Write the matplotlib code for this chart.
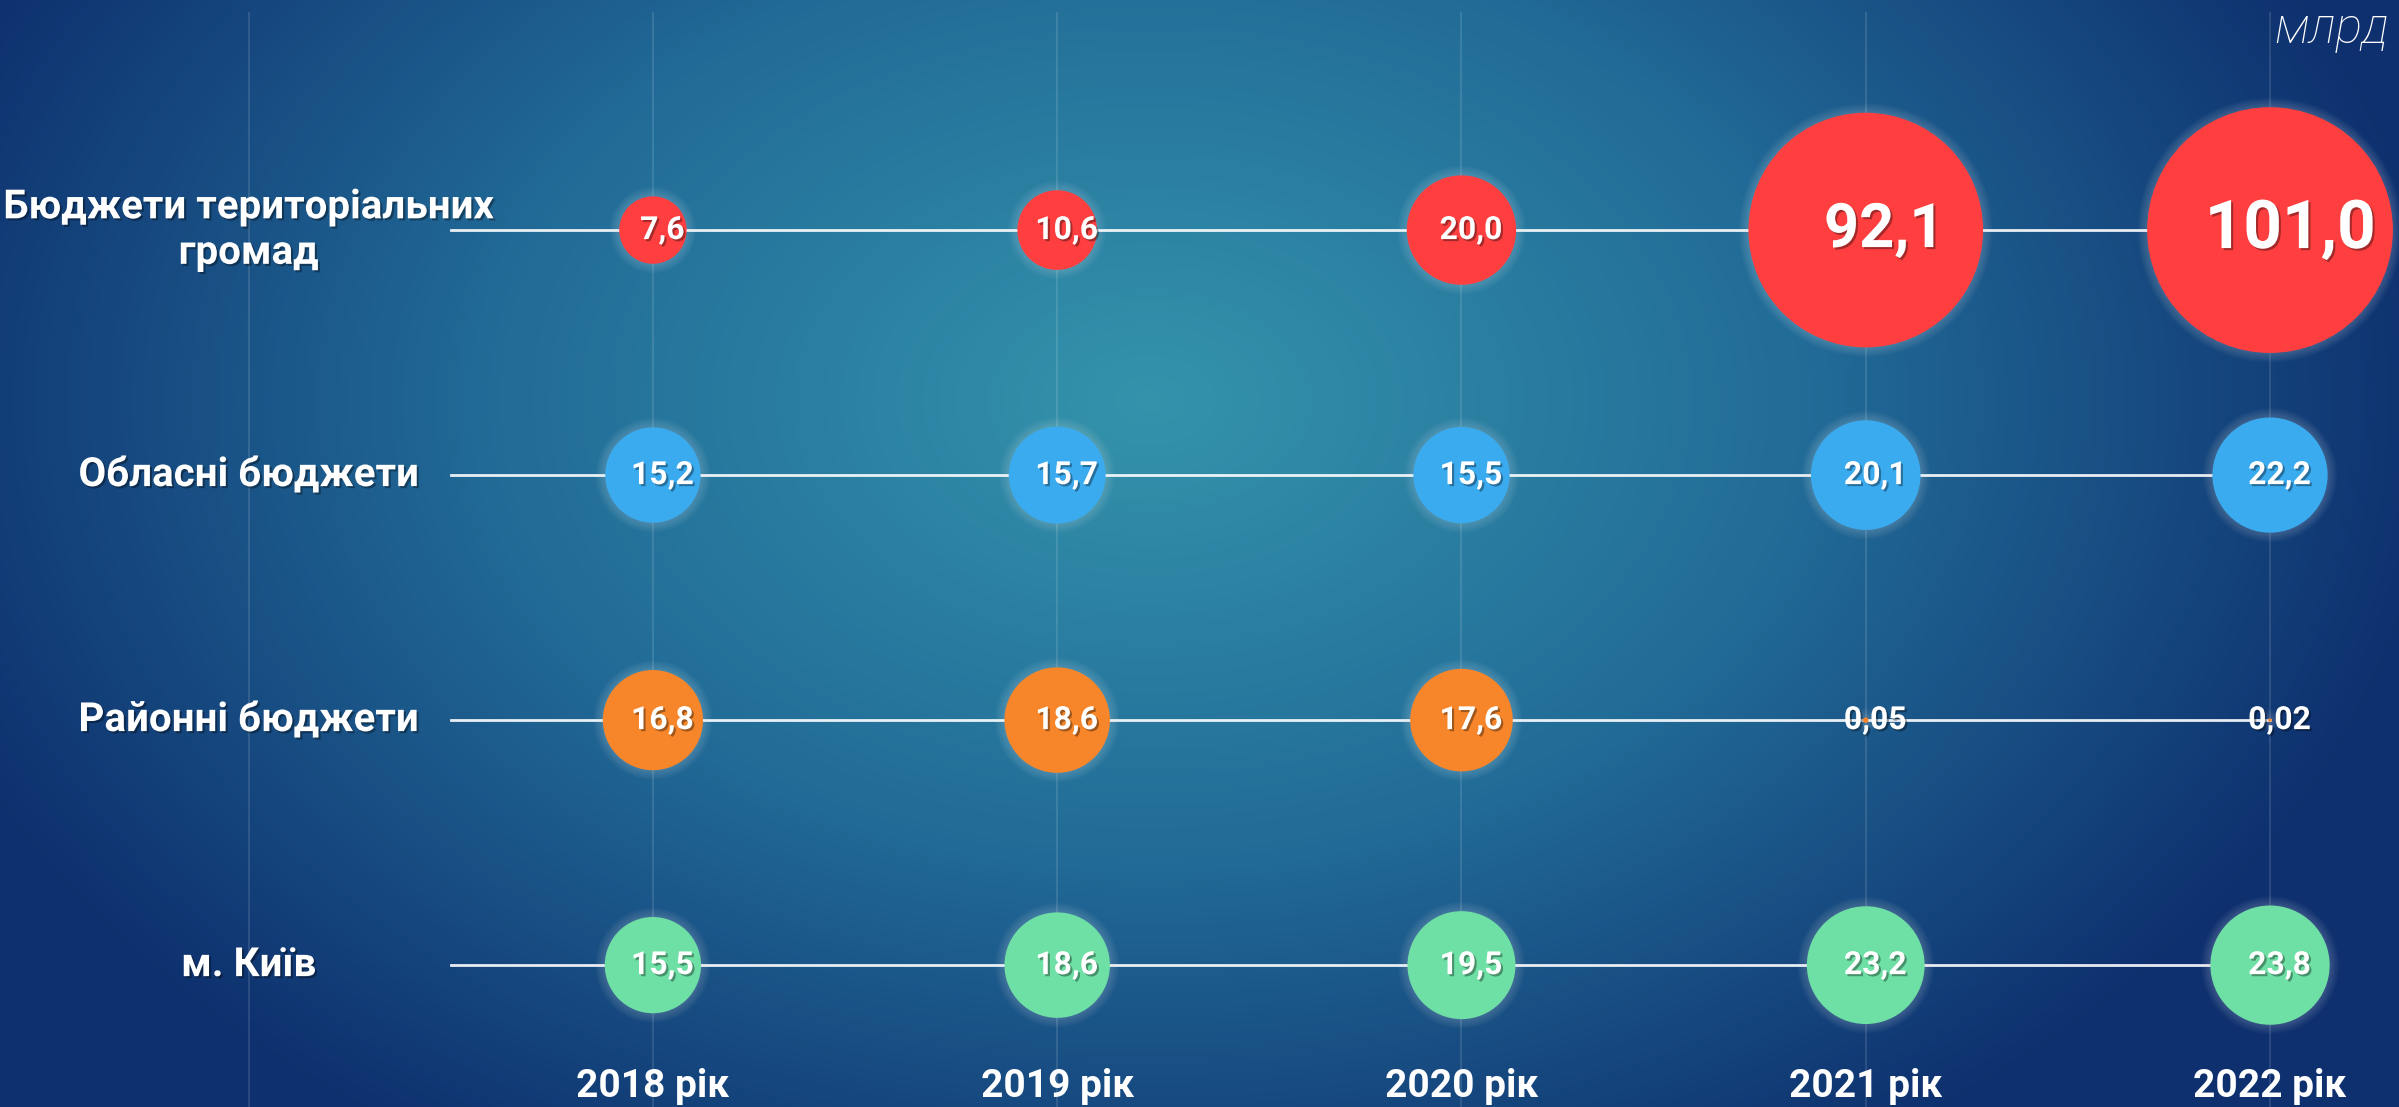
import numpy as np
import matplotlib.pyplot as plt
import matplotlib.patheffects as pe

plt.rcParams['font.family'] = ['Roboto', 'DejaVu Sans']

# дані, млрд грн
years = ['2018 рік', '2019 рік', '2020 рік', '2021 рік', '2022 рік']
categories = ['Бюджети територіальних\nгромад', 'Обласні бюджети',
              'Районні бюджети', 'м. Київ']
gromady = [7.6, 10.6, 20.0, 92.1, 101.0]
oblasni = [15.2, 15.7, 15.5, 20.1, 22.2]
raionni = [16.8, 18.6, 17.6, 0.05, 0.02]
kyiv = [15.5, 18.6, 19.5, 23.2, 23.8]
values = [gromady, oblasni, raionni, kyiv]
colors = ['#FF3F3F', '#3BABF0', '#F7862A', '#6EDFA5']


def fmt(v):
    s = f'{v:.2f}' if v < 1 else f'{v:.1f}'
    return s.replace('.', ',')


fig = plt.figure(figsize=(23.99, 11.07), dpi=100)

# фон - радіальний градієнт
H, W = 1107, 2399
yy, xx = np.mgrid[0:H, 0:W]
d = np.sqrt(((xx - 1150) / 1300.0) ** 2 + ((yy - 400) / 900.0) ** 2)
d = np.clip(d, 0, 1)
c_in = np.array([52, 148, 172]) / 255
c_mid = np.array([34, 108, 152]) / 255
c_out = np.array([14, 48, 110]) / 255
t1 = np.clip(d / 0.5, 0, 1)[..., None]
t2 = np.clip((d - 0.5) / 0.5, 0, 1)[..., None]
img = np.where(d[..., None] < 0.5, c_in + (c_mid - c_in) * t1, c_mid + (c_out - c_mid) * t2)
bg = fig.add_axes([0, 0, 1, 1])
bg.imshow(img, aspect='auto', interpolation='bilinear')
bg.axis('off')

ax = fig.add_axes([0, 0, 1, 1])
ax.patch.set_alpha(0)
ax.axis('off')
ax.set_xlim(-1.615, 4.319)
ax.set_ylim(3.579, -0.939)

xs = np.arange(len(years))
ax.vlines(np.arange(-1, len(years)), -0.89, 3.579, color='white', alpha=0.13, lw=1.3, zorder=1)

shadow = [pe.withSimplePatchShadow(offset=(1.5, -1.5), shadow_rgbFace='black', alpha=0.35)]
k_size = 310

for i, (vals, c) in enumerate(zip(values, colors)):
    ax.plot([-0.5, xs[-1]], [i, i], color='white', lw=2, alpha=0.9, zorder=2)
    s = np.array(vals) * k_size
    # світіння навколо кульок
    for k in range(1, 9):
        ax.scatter(xs, [i] * len(xs), s=(np.sqrt(s) + k * 1.7) ** 2, color='white',
                   alpha=0.025, lw=0, zorder=3)
    ax.scatter(xs, [i] * len(xs), s=s, color=c, lw=0, zorder=4)
    for x, v in zip(xs, vals):
        fs = max(23, v * 0.48)
        ax.annotate(fmt(v), (x, i), xytext=(fs * 0.3, 0), textcoords='offset points',
                    ha='center', va='center', fontsize=fs, fontweight='bold',
                    color='white', zorder=5, path_effects=shadow)
    ax.text(-1, i, categories[i], ha='center', va='center', multialignment='center',
            fontsize=29, fontweight='bold', color='white', linespacing=1.25,
            path_effects=shadow, zorder=5)

for x, y in zip(xs, years):
    ax.text(x, 3.494, y, ha='center', va='center', fontsize=28, fontweight='bold',
            color='white', zorder=5)

ax.text(4.01, -0.82, 'млрд', ha='left', va='center', fontsize=36, style='italic',
        fontweight='light', color='white')

fig.savefig('out.png', dpi=100)
